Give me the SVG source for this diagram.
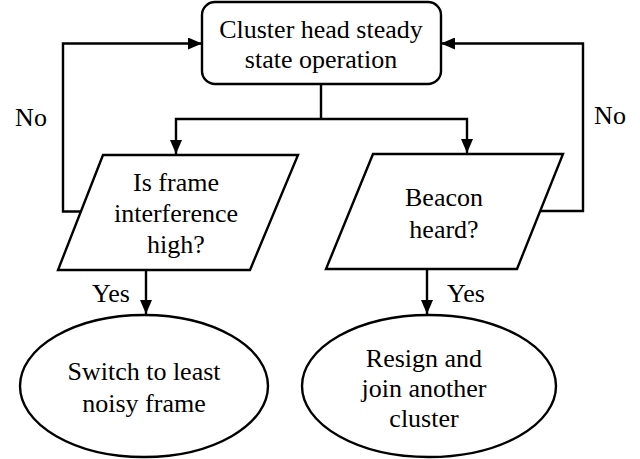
<svg xmlns="http://www.w3.org/2000/svg" width="640" height="459" viewBox="0 0 640 459" font-family="Liberation Serif, Times New Roman, serif">
<defs>
<style>
svg, g, text { font-family: "Liberation Serif", "Times New Roman", serif; }
.shape { fill: #fff; stroke: #000; stroke-width: 2.4; }
.line { fill: none; stroke: #000; stroke-width: 2.4; }
.t { font-size: 26px; text-anchor: middle; fill: #000; }
</style>
<marker id="arr" viewBox="0 0 14 12" refX="14" refY="6" markerWidth="14" markerHeight="12" markerUnits="userSpaceOnUse" orient="auto">
<path d="M0,0 L14,6 L0,12 Z" fill="#000"/>
</marker>
</defs>
<rect width="640" height="459" fill="#fff"/>
<g id="connectors">
<polyline class="line" points="321,84 321,119"/>
<polyline class="line" points="321,119 176,119 176,154" marker-end="url(#arr)"/>
<polyline class="line" points="321,119 467,119 467,153" marker-end="url(#arr)"/>
<polyline class="line" points="81,211.5 63,211.5 63,43.5 202,43.5" marker-end="url(#arr)"/>
<polyline class="line" points="540,211 583,211 583,43.5 441,43.5" marker-end="url(#arr)"/>
<polyline class="line" points="146,270 146,314" marker-end="url(#arr)"/>
<polyline class="line" points="427,269 427,314" marker-end="url(#arr)"/>
</g>
<g id="labels">
<text class="t" x="31" y="126" font-family="Times New Roman">No</text>
<text class="t" x="610" y="124" font-family="Times New Roman">No</text>
<text class="t" x="111" y="302" font-family="Times New Roman">Yes</text>
<text class="t" x="466" y="302" font-family="Times New Roman">Yes</text>
</g>
<g id="start">
<rect class="shape" x="202" y="2" width="239" height="82" rx="13" ry="13"/>
<text class="t" x="321" y="38" font-family="Times New Roman">Cluster head steady</text>
<text class="t" x="321" y="68" font-family="Times New Roman">state operation</text>
</g>
<g id="decision1">
<polygon class="shape" points="103,155 298,155 250,270 58,270"/>
<text class="t" x="176" y="191" font-family="Times New Roman">Is frame</text>
<text class="t" x="176" y="222" font-family="Times New Roman">interference</text>
<text class="t" x="176" y="253" font-family="Times New Roman">high?</text>
</g>
<g id="decision2">
<polygon class="shape" points="373,154 563,154 517,269 326,269"/>
<text class="t" x="444" y="206" font-family="Times New Roman">Beacon</text>
<text class="t" x="444" y="238" font-family="Times New Roman">heard?</text>
</g>
<g id="action1">
<ellipse class="shape" cx="144" cy="386" rx="124" ry="71"/>
<text class="t" x="144" y="380" font-family="Times New Roman">Switch to least</text>
<text class="t" x="144" y="412" font-family="Times New Roman">noisy frame</text>
</g>
<g id="action2">
<ellipse class="shape" cx="429" cy="386" rx="127" ry="71"/>
<text class="t" x="424" y="367" font-family="Times New Roman">Resign and</text>
<text class="t" x="424" y="397" font-family="Times New Roman">join another</text>
<text class="t" x="424" y="427" font-family="Times New Roman">cluster</text>
</g>
</svg>
